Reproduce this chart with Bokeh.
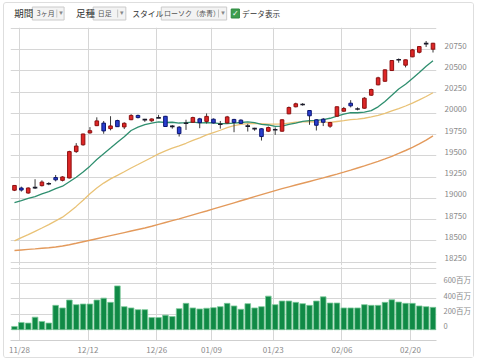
from bokeh.plotting import figure
from bokeh.layouts import column
from bokeh.models import Range1d, FixedTicker
from bokeh.core.properties import value
from bokeh.embed import file_html
from bokeh.resources import INLINE

# ---------------- data ----------------
dates = ["11/25", "11/28", "11/29", "11/30", "12/01", "12/02", "12/05", "12/06", "12/07", "12/08",
         "12/09", "12/12", "12/13", "12/14", "12/15", "12/16", "12/19", "12/20", "12/21", "12/22",
         "12/23", "12/27", "12/28", "12/29", "12/30", "01/03", "01/04", "01/05", "01/06", "01/09",
         "01/10", "01/11", "01/12", "01/13", "01/17", "01/18", "01/19", "01/20", "01/23", "01/24",
         "01/25", "01/26", "01/27", "01/30", "01/31", "02/01", "02/02", "02/03", "02/06", "02/07",
         "02/08", "02/09", "02/10", "02/13", "02/14", "02/15", "02/16", "02/17", "02/21", "02/22",
         "02/23", "02/24"]

opens = [19096, 19122, 19063, 19130, 19150, 19175, 19245, 19212, 19240, 19550,
         19630, 19770, 19855, 19885, 19820, 19915, 19840, 19925, 19975, 19930,
         19912, 19946, 19965, 19850, 19837, 19880, 19895, 19935, 19905, 19931,
         19876, 19887, 19928, 19920, 19852, 19822, 19818, 19790, 19810, 19790,
         19994, 20077, 20106, 20033, 19924, 19931, 19849, 19966, 20025, 20119,
         20052, 20060, 20213, 20335, 20377, 20503, 20632, 20566, 20664, 20718,
         20815, 20754]
highs = [19153, 19138, 19130, 19225, 19212, 19190, 19275, 19260, 19560, 19650,
         19760, 19838, 19953, 19910, 19966, 19925, 19895, 19990, 19985, 19935,
         19940, 19982, 19970, 19862, 19850, 19925, 19960, 19947, 19999, 19940,
         19910, 19970, 19935, 19930, 19876, 19830, 19825, 19845, 19835, 19930,
         20080, 20125, 20120, 20035, 19930, 19945, 19900, 20080, 20075, 20155,
         20070, 20190, 20290, 20430, 20515, 20625, 20645, 20632, 20757, 20790,
         20850, 20828]
lows = [19086, 19080, 19055, 19110, 19140, 19155, 19200, 19200, 19235, 19535,
        19620, 19760, 19850, 19760, 19800, 19840, 19815, 19920, 19940, 19900,
        19900, 19944, 19840, 19820, 19727, 19805, 19890, 19825, 19880, 19880,
        19820, 19880, 19778, 19875, 19786, 19795, 19680, 19780, 19747, 19785,
        19990, 20070, 20090, 19865, 19798, 19850, 19830, 19960, 20020, 20070,
        20035, 20055, 20205, 20330, 20370, 20500, 20595, 20540, 20660, 20705,
        20780, 20715]
closes = [19152, 19098, 19122, 19124, 19192, 19170, 19218, 19252, 19550, 19615,
          19757, 19796, 19911, 19793, 19852, 19843, 19883, 19975, 19950, 19922,
          19934, 19947, 19845, 19843, 19762, 19888, 19950, 19890, 19964, 19887,
          19868, 19958, 19893, 19882, 19848, 19818, 19727, 19833, 19804, 19924,
          20068, 20112, 20102, 19971, 19860, 19895, 19892, 20077, 20057, 20088,
          20049, 20178, 20280, 20417, 20511, 20621, 20629, 20629, 20746, 20785,
          20824, 20824]

ma_short = [18949, 18974, 19000, 19020, 19052, 19079, 19114, 19143, 19196, 19249,
            19310, 19379, 19458, 19525, 19591, 19659, 19725, 19798, 19837, 19867,
            19885, 19900, 19892, 19895, 19886, 19890, 19896, 19888, 19890, 19887,
            19879, 19880, 19886, 19892, 19899, 19891, 19870, 19863, 19847, 19849,
            19870, 19885, 19905, 19914, 19918, 19926, 19942, 19966, 19991, 20009,
            20007, 20014, 20032, 20076, 20140, 20212, 20286, 20341, 20410, 20479,
            20554, 20619]
ma_mid = [18500, 18539, 18574, 18613, 18652, 18692, 18735, 18779, 18840, 18906,
          18979, 19055, 19121, 19180, 19230, 19271, 19313, 19357, 19398, 19440,
          19481, 19524, 19559, 19591, 19618, 19648, 19681, 19712, 19746, 19774,
          19801, 19831, 19856, 19870, 19878, 19880, 19878, 19874, 19874, 19877,
          19886, 19895, 19899, 19901, 19898, 19897, 19894, 19904, 19913, 19926,
          19933, 19942, 19957, 19975, 20000, 20030, 20056, 20086, 20120, 20158,
          20198, 20242]
ma_long = [18388, 18394, 18400, 18406, 18413, 18420, 18428, 18440, 18455, 18472,
           18490, 18508, 18526, 18544, 18562, 18580, 18598, 18616, 18634, 18652,
           18672, 18694, 18716, 18738, 18760, 18783, 18806, 18829, 18852, 18876,
           18900, 18924, 18948, 18972, 18996, 19020, 19044, 19068, 19092, 19114,
           19136, 19157, 19178, 19199, 19220, 19241, 19263, 19285, 19308, 19332,
           19357, 19382, 19408, 19435, 19464, 19495, 19528, 19563, 19600, 19640,
           19685, 19735]

volume = [42, 94, 86, 163, 107, 86, 317, 283, 386, 326,
          334, 334, 386, 411, 356, 570, 300, 283, 261, 261,
          158, 158, 189, 171, 274, 343, 283, 270, 279, 287,
          300, 343, 309, 266, 339, 283, 300, 437, 326, 373,
          373, 356, 339, 317, 373, 428, 347, 347, 283, 283,
          283, 326, 317, 317, 356, 390, 360, 343, 343, 309,
          300, 291]

tick_index = [1, 11, 21, 29, 38, 48, 58]
tick_labels = ["11/28", "12/12", "12/26", "01/09", "01/23", "02/06", "02/20"]
price_levels = [18250, 18500, 18750, 19000, 19250, 19500, 19750, 20000, 20250, 20500, 20750, 21000]
price_labelled = [18250, 18500, 18750, 19000, 19250, 19500, 19750, 20000, 20250, 20500, 20750]
volume_levels = [0, 200, 400, 600, 800]
volume_labelled = [0, 200, 400, 600]
volume_label_text = ["0", "200百万", "400百万", "600百万"]

# ---------------- styling ----------------
FONT = "Noto Sans CJK JP"
GRID = "#d6d6d6"
LABEL = "#8a8a8a"
UP_FILL, UP_LINE = "#de2626", "#8e1010"
DN_FILL, DN_LINE = "#2a3fd0", "#0c1670"
W = 469

idx = list(range(len(closes)))
tick_pos = [i - 0.28 for i in tick_index]
xr = Range1d(-0.58, 61.51)


def plain_axis(axis, size, standoff):
    axis.axis_line_color = None
    axis.major_tick_line_color = None
    axis.minor_tick_line_color = None
    axis.major_tick_out = 0
    axis.major_tick_in = 0
    axis.minor_tick_out = 0
    axis.minor_tick_in = 0
    axis.major_label_standoff = standoff
    axis.major_label_text_font = FONT
    axis.major_label_text_font_size = size
    axis.major_label_text_color = LABEL


# ---------------- header (controls bar), drawn in page pixels ----------------
hdr = figure(width=W, height=24, x_range=Range1d(4, 4 + W), y_range=Range1d(27, 3),
             toolbar_location=None, output_backend="svg",
             x_axis_location=None, y_axis_location=None, min_border=0)
hdr.grid.visible = False
hdr.outline_line_color = None
hdr.quad(left=[28, 95, 170], right=[63, 131, 242], top=6.5, bottom=19.5,
         fill_color="#f3f3f3", line_color="#cacaca", line_width=1)
hdr.segment(x0=[55, 122, 233], x1=[55, 122, 233], y0=9, y1=17, line_color="#c4c4c4", line_width=1)
hdr.text(x=[8, 76], y=12.8, text=["期間", "足種"], text_font=value(FONT), text_font_size="9.5px",
         text_color="#333333", text_baseline="middle", text_align="left")
hdr.text(x=[138], y=12.8, text=["スタイル"], text_font=value(FONT), text_font_size="7.8px",
         text_color="#333333", text_baseline="middle", text_align="left")
hdr.text(x=[259], y=12.8, text=["データ表示"], text_font=value(FONT), text_font_size="7.6px",
         text_color="#333333", text_baseline="middle", text_align="left")
hdr.text(x=[33, 100, 173], y=12.8, text=["3ヶ月", "日足", "ローソク（赤青）"], text_font=value(FONT),
         text_font_size="7px", text_color="#555555", text_baseline="middle", text_align="left")
hdr.text(x=[59.5, 126.5, 238], y=12.8, text=["▾", "▾", "▾"], text_font=value("DejaVu Sans"),
         text_font_size="7px", text_color="#888888", text_baseline="middle", text_align="center")
hdr.quad(left=[247], right=[256], top=[8.5], bottom=[17.5], fill_color="#3d9e4f", line_color="#2f8a40")
hdr.text(x=[251.5], y=[13.1], text=["✓"], text_font=value("DejaVu Sans"), text_font_size="8px",
         text_font_style="bold", text_color="white", text_baseline="middle", text_align="center")

# ---------------- price panel ----------------
price = figure(width=W, height=239, x_range=xr, y_range=Range1d(18211, 21009),
               toolbar_location=None, output_backend="svg",
               y_axis_location="right", x_axis_location=None,
               min_border_left=6, min_border_right=36, min_border_top=0, min_border_bottom=1)
price.outline_line_color = None
price.xgrid.ticker = FixedTicker(ticks=tick_pos)
price.ygrid.ticker = FixedTicker(ticks=price_levels)
price.grid.grid_line_color = GRID
price.grid.grid_line_width = 1

ax = price.yaxis[0]
shift_p = 47  # labels sit a few pixels above their grid line
ax.ticker = FixedTicker(ticks=[v + shift_p for v in price_labelled])
ax.major_label_overrides = {v + shift_p: str(v) for v in price_labelled}
plain_axis(ax, "8px", 8)

body_x, body_top, body_bot, body_fill, body_line = [], [], [], [], []
doji_x, doji_y = [], []
for i, o, c in zip(idx, opens, closes):
    if abs(c - o) < 12:
        doji_x.append(i)
        doji_y.append((o + c) / 2)
    else:
        body_x.append(i)
        body_top.append(max(o, c))
        body_bot.append(min(o, c))
        body_fill.append(UP_FILL if c > o else DN_FILL)
        body_line.append(UP_LINE if c > o else DN_LINE)

price.line(idx, ma_long, line_color="#e39a5c", line_width=1.4)
price.line(idx, ma_mid, line_color="#e9c276", line_width=1.3)
price.line(idx, ma_short, line_color="#2f8f6f", line_width=1.3)

price.segment(x0=idx, x1=idx, y0=lows, y1=highs, line_color="#3a3a3a", line_width=1)
price.vbar(x=body_x, width=0.52, top=body_top, bottom=body_bot,
           fill_color=body_fill, line_color=body_line, line_width=1)
price.segment(x0=[x - 0.33 for x in doji_x], x1=[x + 0.33 for x in doji_x], y0=doji_y, y1=doji_y,
              line_color="#1a1a2a", line_width=1.6)

# ---------------- volume panel ----------------
vol = figure(width=W, height=91, x_range=xr, y_range=Range1d(-141, 823),
             toolbar_location=None, output_backend="svg",
             y_axis_location="right", x_axis_location="below",
             min_border_left=6, min_border_right=36, min_border_top=0, min_border_bottom=16)
vol.outline_line_color = None
vol.xgrid.ticker = FixedTicker(ticks=tick_pos)
vol.ygrid.ticker = FixedTicker(ticks=volume_levels)
vol.grid.grid_line_color = GRID
vol.grid.grid_line_width = 1

vol.vbar(x=idx, top=volume, bottom=0, width=0.82, fill_color="#108a46", line_color="#7cc99a", line_width=0.8)

vy = vol.yaxis[0]
shift_v = 51
vy.ticker = FixedTicker(ticks=[v + shift_v for v in volume_labelled])
vy.major_label_overrides = {v + shift_v: t for v, t in zip(volume_labelled, volume_label_text)}
plain_axis(vy, "7.5px", 7)

vx = vol.xaxis[0]
vx.ticker = FixedTicker(ticks=tick_pos)
vx.major_label_overrides = {p: t for p, t in zip(tick_pos, tick_labels)}
plain_axis(vx, "8px", 3)
vx.axis_line_color = "#cfcfcf"

layout = column(hdr, price, vol, spacing=0,
                styles={"margin": "2px 0 0 3px", "border": "1px solid #dedede", "border-radius": "3px"})
open("out.html", "w").write(file_html(layout, INLINE))
